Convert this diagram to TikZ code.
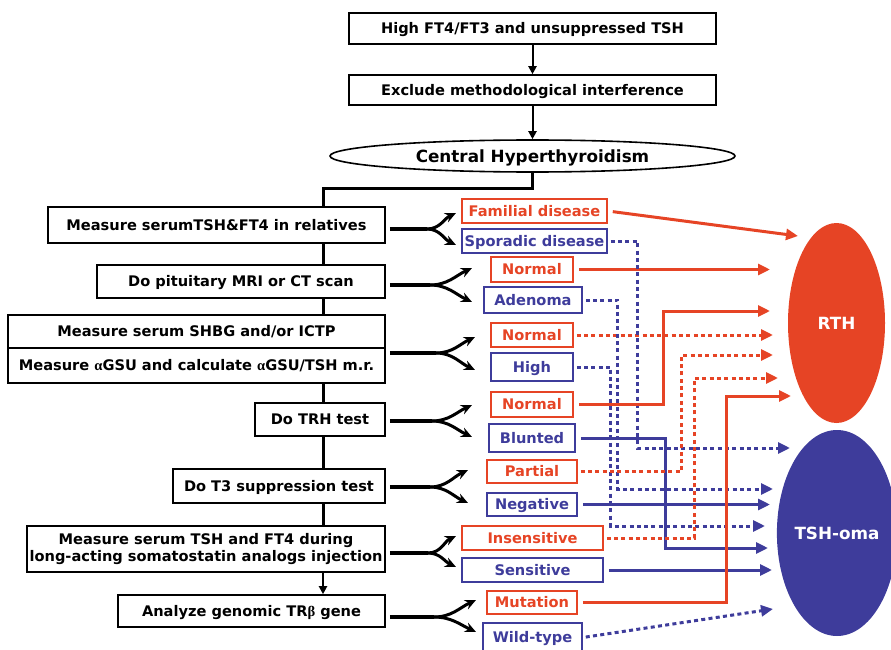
\documentclass[tikz,border=0pt]{standalone}
\usepackage{fontspec}
\setmainfont{DejaVu Sans}
\newfontfamily\grk{Liberation Serif}
\usepackage{xcolor}
\usepackage{tikz}
\usetikzlibrary{arrows.meta,shapes.geometric,backgrounds}

\definecolor{rthred}{RGB}{230,68,37}
\definecolor{omablue}{RGB}{62,60,155}
\newcommand{\boxfont}{\fontsize{14.6}{16.5}\selectfont\bfseries}
\newcommand{\bigfont}{\fontsize{16.8}{18}\selectfont\bfseries}

\tikzset{
	twolinebox/.style={draw,line width=1.6pt,fill=white,inner sep=0pt,font=\boxfont,align=center},
	blackbox/.style={twolinebox,text height=10.6pt,text depth=0pt},
	redbox/.style={blackbox,draw=rthred,text=rthred},
	bluebox/.style={blackbox,draw=omablue,text=omablue},
	forkstem/.style={line width=4.8pt,shorten <=4pt},
	forkarm/.style={line width=3pt,-{Stealth[length=11pt,width=10pt]}},
	redline/.style={rthred,line width=3pt,shorten <=5pt,-{Triangle[length=12pt,width=11pt]}},
	blueline/.style={redline,omablue},
	reddots/.style={redline,shorten <=3pt,dash pattern=on 4pt off 3.3pt},
	bluedots/.style={reddots,omablue},
}

\begin{document}
\begin{tikzpicture}[x=1pt,y=1pt]
		\useasboundingbox (0,0) rectangle (891,-650);
		% top of the chart
		\node[blackbox,minimum width=367pt,minimum height=31pt] (high) at (532.5,-28.5) {High FT4/FT3 and unsuppressed TSH};
		\node[blackbox,minimum width=367pt,minimum height=30pt] (excl) at (532.5,-90) {Exclude methodological interference};
		\node[draw,ellipse,line width=1.6pt,inner sep=0pt,minimum width=405pt,minimum height=32pt,font=\bigfont,text height=12.2pt,text depth=0pt] (ch) at (532.5,-156) {Central Hyperthyroidism};
		%
		% tests on the left
		\node[blackbox,minimum width=337pt,minimum height=36pt] (m1) at (216.5,-225) {Measure serumTSH\&FT4 in relatives};
		\node[blackbox,minimum width=288pt,minimum height=33pt] (m2) at (241,-281.5) {Do pituitary MRI or CT scan};
		\node[blackbox,minimum width=377pt,minimum height=33pt] (m3) at (196.5,-331.5) {Measure serum SHBG and/or ICTP};
		\node[blackbox,minimum width=377pt,minimum height=35pt] (m4) at (196.5,-365.5) {Measure {\grk α}GSU and calculate {\grk α}GSU/TSH m.r.};
		\node[blackbox,minimum width=130pt,minimum height=33pt] (m5) at (320,-419.5) {Do TRH test};
		\node[blackbox,minimum width=212pt,minimum height=34pt] (m6) at (279,-486) {Do T3 suppression test};
		\node[twolinebox,minimum width=358pt,minimum height=46pt] (m7) at (206,-549) {Measure serum TSH and FT4 during\\long-acting somatostatin analogs injection};
		\node[blackbox,minimum width=267pt,minimum height=32pt] (m8) at (251.5,-611) {Analyze genomic TR{\grk β} gene};
		%
		% results
		\node[redbox,minimum width=145pt,minimum height=24pt] (o1) at (534.5,-211) {Familial disease};
		\node[bluebox,minimum width=145pt,minimum height=24pt] (o2) at (534.5,-241) {Sporadic disease};
		\node[redbox,minimum width=82pt,minimum height=25pt] (o3) at (532,-269.5) {Normal};
		\node[bluebox,minimum width=98pt,minimum height=26pt] (o4) at (533,-300) {Adenoma};
		\node[redbox,minimum width=82pt,minimum height=24pt] (o5) at (532,-335) {Normal};
		\node[bluebox,minimum width=82pt,minimum height=28pt] (o6) at (532,-367) {High};
		\node[redbox,minimum width=82pt,minimum height=25pt] (o7) at (532,-404.5) {Normal};
		\node[bluebox,minimum width=86pt,minimum height=28pt] (o8) at (532,-438) {Blunted};
		\node[redbox,minimum width=90pt,minimum height=23pt] (o9) at (532,-471.5) {Partial};
		\node[bluebox,minimum width=90pt,minimum height=23pt] (o10) at (532,-504.5) {Negative};
		\node[redbox,minimum width=141pt,minimum height=24pt] (o11) at (532.5,-538) {Insensitive};
		\node[bluebox,minimum width=141pt,minimum height=24pt] (o12) at (532.5,-570) {Sensitive};
		\node[redbox,minimum width=90pt,minimum height=23pt] (o13) at (532,-602.5) {Mutation};
		\node[bluebox,minimum width=99pt,minimum height=29pt] (o14) at (532.5,-637.5) {Wild-type};
		%
		% diagnoses
		\node[ellipse,fill=rthred,text=white,inner sep=0pt,minimum width=97pt,minimum height=200pt,font=\bigfont] (rth) at (836.5,-323) {RTH};
		\node[ellipse,fill=omablue,text=white,inner sep=0pt,minimum width=108pt,minimum height=206pt,font=\bigfont] (oma) at (837,-533) {TSH-oma};
		%
		% arrow ends at the diagnoses
		\coordinate (t1) at (798,-236);
		\coordinate (t2) at (790,-448);
		\coordinate (t3) at (770,-269.5);
		\coordinate (t4) at (773,-489);
		\coordinate (t5) at (773,-335);
		\coordinate (t6) at (765,-526);
		\coordinate (t7) at (770,-311);
		\coordinate (t8) at (768,-548);
		\coordinate (t9) at (773,-355);
		\coordinate (t10) at (770,-504.5);
		\coordinate (t11) at (778,-378);
		\coordinate (t12) at (772,-570);
		\coordinate (t13) at (791,-396);
		\coordinate (t14) at (773,-609);
		%
		% main line
		\path[-{Triangle[length=8pt,width=8pt]},line width=2pt]
		(high) edge (excl)
		(excl) edge (ch);
		\coordinate (sp) at (323,-188);
		\begin{scope}[on background layer]
			\draw[line width=3pt] (ch.south) |- (sp) -- (sp |- m7.south);
		\end{scope}
		\draw[line width=2pt,-{Triangle[length=8pt,width=8pt]}] (sp |- m7.south) -- (sp |- m8.north);
		%
		% forks
		\coordinate (j1) at (427,-229);
		\coordinate (j1a) at (456,-213);
		\coordinate (j1b) at (456,-245);
		\coordinate (j2) at (430,-285);
		\coordinate (j2a) at (472,-268);
		\coordinate (j2b) at (472,-302);
		\coordinate (j3) at (436,-353);
		\coordinate (j3a) at (475,-337);
		\coordinate (j3b) at (475,-370);
		\coordinate (j4) at (432,-421);
		\coordinate (j4a) at (472,-405);
		\coordinate (j4b) at (472,-437);
		\coordinate (j5) at (430,-487);
		\coordinate (j5a) at (468,-470);
		\coordinate (j5b) at (468,-503);
		\coordinate (j6) at (428,-553);
		\coordinate (j6a) at (456,-536);
		\coordinate (j6b) at (456,-567);
		\coordinate (j7) at (434,-617);
		\coordinate (j7a) at (476,-600);
		\coordinate (j7b) at (476,-632);
		\draw[forkstem] (j1 -| m1.east) -- (j1);
		\draw[forkstem] (j2 -| m2.east) -- (j2);
		\draw[forkstem] (j3 -| m4.east) -- (j3);
		\draw[forkstem] (j4 -| m5.east) -- (j4);
		\draw[forkstem] (j5 -| m6.east) -- (j5);
		\draw[forkstem] (j6 -| m7.east) -- (j6);
		\draw[forkstem] (j7 -| m8.east) -- (j7);
		\path[forkarm]
		(j1) edge[out=0,in=205] (j1a)
		(j1) edge[out=0,in=155] (j1b)
		(j2) edge[out=0,in=205] (j2a)
		(j2) edge[out=0,in=155] (j2b)
		(j3) edge[out=0,in=205] (j3a)
		(j3) edge[out=0,in=155] (j3b)
		(j4) edge[out=0,in=205] (j4a)
		(j4) edge[out=0,in=155] (j4b)
		(j5) edge[out=0,in=205] (j5a)
		(j5) edge[out=0,in=155] (j5b)
		(j6) edge[out=0,in=205] (j6a)
		(j6) edge[out=0,in=155] (j6b)
		(j7) edge[out=0,in=205] (j7a)
		(j7) edge[out=0,in=155] (j7b);
		%
		% straight arrows
		\draw[redline] (o1.east) -- (t1);
		\draw[redline] (o3.east) -- (t3);
		\draw[reddots] (o5.east) -- (t5);
		\draw[blueline] (o10.east) -- (t10);
		\draw[blueline] (o12.east) -- (t12);
		\draw[bluedots] (o14.east) -- (t14);
		% bent arrows
		\draw[bluedots] (o2.east) -- ++(30,0) |- (t2);
		\draw[bluedots] (o4.east) -- ++(35,0) |- (t4);
		\draw[bluedots] (o6.east) -- ++(37,0) |- (t6);
		\draw[redline] (o7.east) -- ++(90,0) |- (t7);
		\draw[blueline] (o8.east) -- ++(90,0) |- (t8);
		\draw[reddots] (o9.east) -- ++(104,0) |- (t9);
		\draw[reddots] (o11.east) -- ++(91,0) |- (t11);
		\draw[redline] (o13.east) -- ++(149,0) |- (t13);
	\end{tikzpicture}
\end{document}
